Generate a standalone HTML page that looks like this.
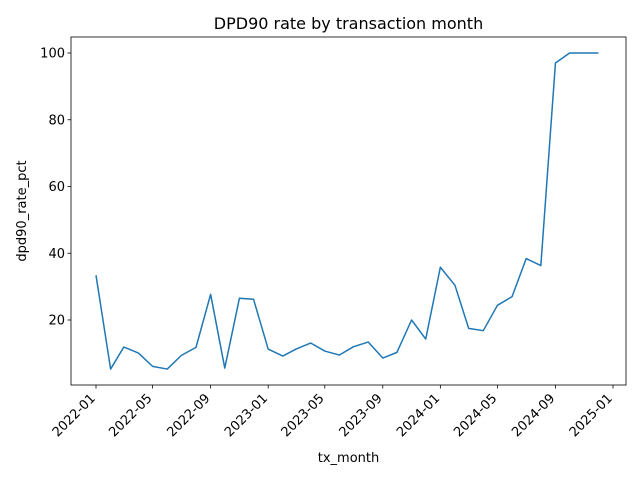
<!DOCTYPE html>
<html><head><meta charset="utf-8"><style>
body{margin:0;background:#fff;}
svg{display:block;font-family:"DejaVu Sans","Liberation Sans",sans-serif;}
</style></head><body>
<svg id="chart" width="640" height="480"></svg>
<script>
const months = ["2022-01","2022-02","2022-03","2022-04","2022-05","2022-06","2022-07","2022-08","2022-09","2022-10","2022-11","2022-12",
"2023-01","2023-02","2023-03","2023-04","2023-05","2023-06","2023-07","2023-08","2023-09","2023-10","2023-11","2023-12",
"2024-01","2024-02","2024-03","2024-04","2024-05","2024-06","2024-07","2024-08","2024-09","2024-10","2024-11","2024-12"];
const rates = [33.4,5.3,11.9,10.1,6.1,5.3,9.4,11.8,27.7,5.6,26.5,26.2,
11.3,9.2,11.3,13.1,10.7,9.5,12.0,13.4,8.6,10.3,20.0,14.3,
35.8,30.4,17.5,16.8,24.4,27.0,38.4,36.3,97.0,100,100,100];
const xTickLabels = ["2022-01","2022-05","2022-09","2023-01","2023-05","2023-09","2024-01","2024-05","2024-09","2025-01"];
const yTicks = [20,40,60,80,100];

const NS="http://www.w3.org/2000/svg";
const svg=document.getElementById('chart');
const L=71,R=626,T=37,B=385;
const d0=Date.UTC(2022,0,1), d1=Date.UTC(2025,0,1);
function dayOf(s){const p=s.split('-');return Date.UTC(+p[0],+p[1]-1,1);}
function xs(s){return 96+(dayOf(s)-d0)/(d1-d0)*(613-96);}
function ys(v){return 320-(v-20)*(320-53)/80;}
function el(t,a,txt){const e=document.createElementNS(NS,t);for(const k in a)e.setAttribute(k,a[k]);if(txt!=null)e.textContent=txt;svg.appendChild(e);return e;}

let e=el('rect',{x:L,y:T,width:R-L,height:B-T,fill:'none',stroke:'#000','stroke-width':0.8});



xTickLabels.forEach(lab=>{
  const x=xs(lab);
  let t=el('line',{x1:x,x2:x,y1:B,y2:B+3.5,stroke:'#000','stroke-width':0.8});
  
  
  const ax=x, ay=B+14;
  let tx=el('text',{x:ax,y:ay,'font-size':13,'text-anchor':'end',transform:`rotate(-45 ${ax} ${ay})`},lab);
  
  
});
yTicks.forEach(v=>{
  const y=ys(v);
  let t=el('line',{x1:L-3.5,x2:L,y1:y,y2:y,stroke:'#000','stroke-width':0.8});
  
  
  let tx=el('text',{x:L-6,y:y+4.5,'font-size':13,'text-anchor':'end'},String(v));
  
  
});

const pts=months.map((m,i)=>xs(m).toFixed(2)+','+ys(rates[i]).toFixed(2)).join(' ');
let line=el('polyline',{points:pts,fill:'none',stroke:'#1f77b4','stroke-width':1.5,'stroke-linejoin':'round'});



let title=el('text',{x:(L+R)/2,y:29,'font-size':16,'text-anchor':'middle'},'DPD90 rate by transaction month');


let xt=el('text',{x:(L+R)/2,y:462,'font-size':13,'text-anchor':'middle'},'tx_month');


let yt=el('text',{x:26,y:(T+B)/2,'font-size':13,'text-anchor':'middle',transform:`rotate(-90 26 ${(T+B)/2})`},'dpd90_rate_pct');


</script>
</body></html>
